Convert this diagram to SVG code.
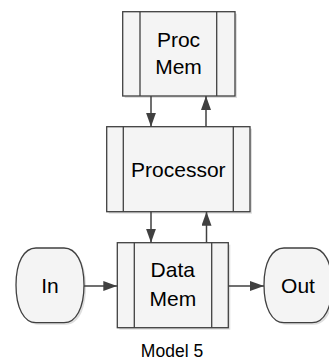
<svg xmlns="http://www.w3.org/2000/svg" width="329" height="360" viewBox="0 0 329 360">
  <defs>
    <style>
      .box { fill: #f4f4f4; stroke: #404040; stroke-width: 1.3; }
      .bar { fill: none; stroke: #404040; stroke-width: 1.3; }
      .shadow { fill: #dedede; }
      .wire { fill: none; stroke: #404040; stroke-width: 1.5; }
      .label { font-family: "Liberation Sans", Arial, sans-serif; font-size: 21px; fill: #000; text-anchor: middle; }
      .caption { font-family: "Liberation Sans", Arial, sans-serif; font-size: 17.5px; fill: #000; text-anchor: middle; }
    </style>
    <marker id="arrow" viewBox="0 0 14 10" refX="14" refY="5" markerWidth="14" markerHeight="10" markerUnits="userSpaceOnUse" orient="auto">
      <path d="M0,0 L14,5 L0,10 Z" fill="#404040"/>
    </marker>
  </defs>

  <rect width="329" height="360" fill="#ffffff"/>

  <!-- Processor memory -->
  <g id="proc-mem">
    <rect class="shadow" x="124.7" y="13.7" width="112.3" height="84.3"/>
    <rect class="box" x="122.7" y="11.7" width="112.3" height="84.3"/>
    <line class="bar" x1="140" y1="11.7" x2="140" y2="96"/>
    <line class="bar" x1="216.7" y1="11.7" x2="216.7" y2="96"/>
    <text class="label" x="178.5" y="47">Proc</text>
    <text class="label" x="178.5" y="74">Mem</text>
  </g>

  <!-- Processor -->
  <g id="processor">
    <rect class="shadow" x="108.7" y="128.7" width="143.3" height="85"/>
    <rect class="box" x="106.7" y="126.7" width="143.3" height="85"/>
    <line class="bar" x1="123.3" y1="126.7" x2="123.3" y2="211.7"/>
    <line class="bar" x1="233.3" y1="126.7" x2="233.3" y2="211.7"/>
    <text class="label" x="178.3" y="177.3">Processor</text>
  </g>

  <!-- Data memory -->
  <g id="data-mem">
    <rect class="shadow" x="119.3" y="244.7" width="111" height="85"/>
    <rect class="box" x="117.3" y="242.7" width="111" height="85"/>
    <line class="bar" x1="134.3" y1="242.7" x2="134.3" y2="327.7"/>
    <line class="bar" x1="211.7" y1="242.7" x2="211.7" y2="327.7"/>
    <text class="label" x="172.8" y="277.3">Data</text>
    <text class="label" x="172.8" y="306">Mem</text>
  </g>

  <!-- Input terminal -->
  <g id="in">
    <path class="shadow" d="M38,250 H66 C78,250 86,264 86,287 C86,310 78,324.7 66,324.7 H38 C26,324.7 18,310 18,287 C18,264 26,250 38,250 Z"/>
    <path class="box" d="M36,248 H64 C76,248 84,262 84,285 C84,308 76,322.7 64,322.7 H36 C24,322.7 16,308 16,285 C16,262 24,248 36,248 Z"/>
    <text class="label" x="50" y="292.7">In</text>
  </g>

  <!-- Output terminal -->
  <g id="out">
    <path class="shadow" d="M286,250 H314 C326,250 334,264 334,287 C334,310 326,324.7 314,324.7 H286 C274,324.7 266,310 266,287 C266,264 274,250 286,250 Z"/>
    <path class="box" d="M284,248 H312 C324,248 332,262 332,285 C332,308 324,322.7 312,322.7 H284 C272,322.7 264,308 264,285 C264,262 272,248 284,248 Z"/>
    <text class="label" x="298" y="292.7">Out</text>
  </g>

  <!-- Connectors -->
  <g id="connectors">
    <line class="wire" x1="151" y1="96" x2="151" y2="126.7" marker-end="url(#arrow)"/>
    <line class="wire" x1="206" y1="126.7" x2="206" y2="96" marker-end="url(#arrow)"/>
    <line class="wire" x1="151" y1="211.7" x2="151" y2="242.7" marker-end="url(#arrow)"/>
    <line class="wire" x1="206.5" y1="242.7" x2="206.5" y2="211.7" marker-end="url(#arrow)"/>
    <line class="wire" x1="84" y1="286" x2="117.3" y2="286" marker-end="url(#arrow)"/>
    <line class="wire" x1="228.3" y1="286" x2="264" y2="286" marker-end="url(#arrow)"/>
  </g>

  <text class="caption" x="172" y="356.5">Model 5</text>
</svg>
